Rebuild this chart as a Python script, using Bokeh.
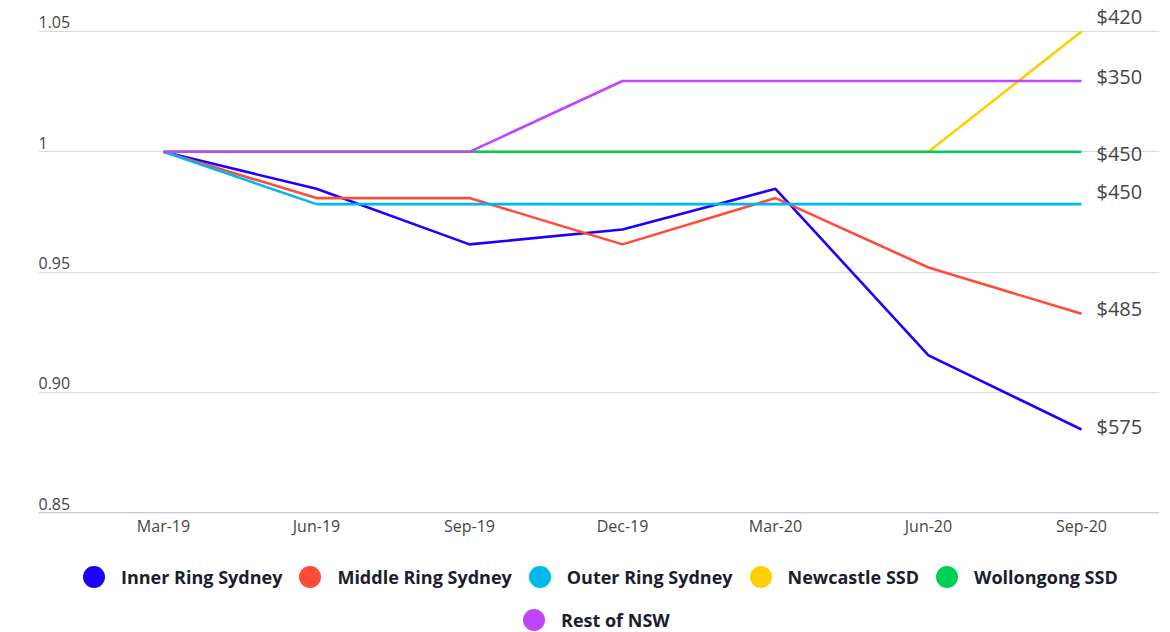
from bokeh.plotting import figure
from bokeh.models import (ColumnDataSource, Range1d, Grid, FixedTicker, Legend,
                          LegendItem, Span)
from bokeh.core.properties import value
from bokeh.embed import file_html
from bokeh.resources import INLINE

# ---- data -------------------------------------------------------------
quarters = ["Mar-19", "Jun-19", "Sep-19", "Dec-19", "Mar-20", "Jun-20", "Sep-20"]
regions = ["Inner Ring Sydney", "Middle Ring Sydney", "Outer Ring Sydney",
           "Newcastle SSD", "Wollongong SSD", "Rest of NSW"]

# median weekly rents ($) per quarter
inner_ring = [650, 640, 625, 629, 640, 595, 575]
middle_ring = [520, 510, 510, 500, 510, 495, 485]
outer_ring = [460, 450, 450, 450, 450, 450, 450]
newcastle = [400, 400, 400, 400, 400, 400, 420]
wollongong = [450, 450, 450, 450, 450, 450, 450]
rest_of_nsw = [340, 340, 340, 350, 350, 350, 350]

y_ticks = [0.85, 0.90, 0.95, 1.0, 1.05]
y_tick_labels = ["0.85", "0.90", "0.95", "1", "1.05"]

# ---- styling ----------------------------------------------------------
colors = ["#1f00ff", "#ff4b3a", "#00b9ec", "#ffd000", "#00cf55", "#bf45ff"]
end_label_nudge = [-3, -5, -13, -15, 2, -5]   # px, keeps end labels apart
FONT = "Open Sans"
GRID = "#dadada"
TEXT = "#454545"

series = [inner_ring, middle_ring, outer_ring, newcastle, wollongong, rest_of_nsw]
xs = list(range(len(quarters)))

p = figure(width=1170, height=632, output_backend="svg", toolbar_location=None,
           x_axis_location=None, y_axis_location=None,
           x_range=Range1d(-0.817, 6.51), y_range=Range1d(0.80026, 1.06288),
           min_border_left=38, min_border_right=11, min_border_top=0,
           min_border_bottom=0, outline_line_color=None,
           background_fill_color="white", border_fill_color="white")

# only horizontal rules at the chosen index levels
for g in p.grid:
    g.visible = False
p.add_layout(Grid(dimension=1, ticker=FixedTicker(ticks=y_ticks),
                  grid_line_color=GRID, grid_line_width=1))
p.add_layout(Span(location=y_ticks[0], dimension="width",
                  line_color="#c6c7d0", line_width=1))

# y tick labels sit on top of their grid lines at the left edge
p.text(x=[p.x_range.start] * len(y_ticks), y=y_ticks, text=y_tick_labels,
       text_font=value(FONT), text_font_size="16px", text_color=TEXT,
       text_align="left", text_baseline="bottom", y_offset=-3)

# quarter labels under the base line
p.text(x=xs, y=[y_ticks[0]] * len(xs), text=quarters,
       text_font=value(FONT), text_font_size="16px", text_color=TEXT,
       text_align="center", text_baseline="middle", y_offset=13)

legend_items = []
end_x, end_y, end_text = [], [], []
for name, rents, color in zip(regions, series, colors):
    index = [r / rents[0] for r in rents]
    src = ColumnDataSource(dict(x=xs, y=index))
    p.line("x", "y", source=src, line_color=color, line_width=2.6)
    marker = p.scatter("x", "y", source=src, size=10, fill_color=color,
                       line_color=None, visible=False)
    legend_items.append(LegendItem(label=name, renderers=[marker]))
    end_x.append(xs[-1])
    end_y.append(index[-1])
    end_text.append(f"${rents[-1]}")

p.text(x=end_x, y=end_y, text=end_text, x_offset=15, y_offset=end_label_nudge,
       text_font=value(FONT), text_font_size="20px", text_color=TEXT,
       text_align="left", text_baseline="middle")

legend_style = dict(orientation="horizontal",
                    glyph_width=55, glyph_height=55, label_standoff=0,
                    spacing=-13, padding=0, margin=0, border_line_color=None,
                    background_fill_alpha=0, label_text_font=FONT,
                    label_text_font_size="18px", label_text_font_style="bold",
                    label_text_color="#1c1d2e", click_policy="none")

# two legend rows under the quarter labels (pixels from the frame's bottom-left)
p.add_layout(Legend(items=legend_items[:5], location=(28, 28), **legend_style))
p.add_layout(Legend(items=legend_items[5:], location=(468, -15), **legend_style))

open("out.html", "w").write(file_html(p, INLINE))
